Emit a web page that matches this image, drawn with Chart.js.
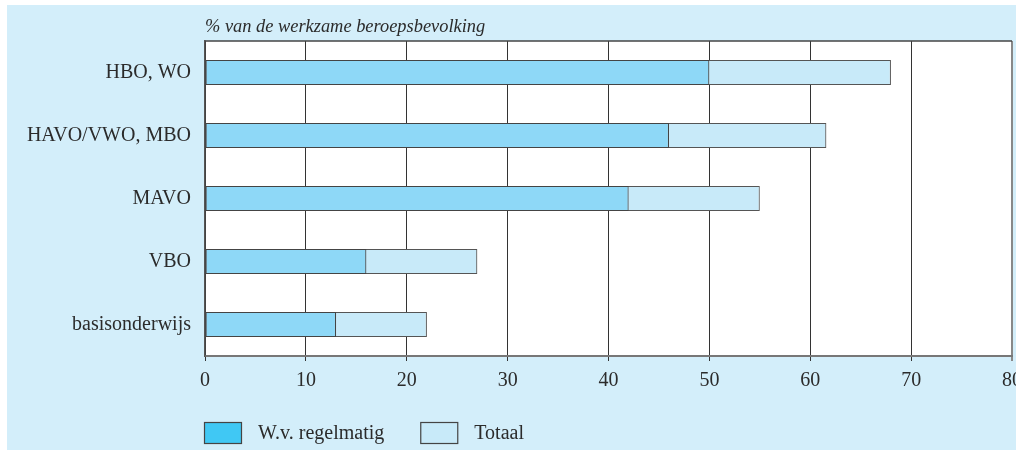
<!DOCTYPE html>
<html>
<head>
<meta charset="utf-8">
<script src="https://cdn.jsdelivr.net/npm/chart.js@4.4.0/dist/chart.umd.min.js"></script>
<style>
  html, body { margin: 0; padding: 0; background: #fff; }
  #wrap { position: absolute; left: 7px; top: 5px; width: 1009px; height: 445px; background: #d3eefa; overflow: hidden; }
</style>
</head>
<body>
<div id="wrap"><canvas id="chart" width="1009" height="445"></canvas></div>
<script>
'use strict';

const categories = ['HBO, WO', 'HAVO/VWO, MBO', 'MAVO', 'VBO', 'basisonderwijs'];
const regelmatig = [50, 46, 42, 16, 13];
const totaal = [68, 61.6, 55, 27, 22];
const xMax = 80;
const xStep = 10;

const axisTitle = '% van de werkzame beroepsbevolking';
const legendItems = [
  { label: 'W.v. regelmatig', fill: '#40c8f4' },
  { label: 'Totaal', fill: '#c8eaf9' },
];

const FONT = "'Liberation Serif', 'DejaVu Serif', serif";
const TEXT = '#2b2b2b';

// white plot background, top edge, italic axis title and the legend row
const frame = {
  id: 'frame',
  beforeDraw(chart) {
    const { ctx, chartArea: a } = chart;
    ctx.save();
    ctx.fillStyle = '#fff';
    ctx.fillRect(a.left, a.top, a.right - a.left, a.bottom - a.top);
    ctx.restore();
  },
  afterDraw(chart) {
    const { ctx, chartArea: a } = chart;
    ctx.save();
    ctx.strokeStyle = '#444';
    ctx.lineWidth = 1.5;
    ctx.beginPath();
    ctx.moveTo(a.left, a.top);
    ctx.lineTo(a.right, a.top);
    ctx.stroke();

    ctx.fillStyle = TEXT;
    ctx.font = 'italic 18.4px ' + FONT;
    ctx.textBaseline = 'alphabetic';
    ctx.textAlign = 'left';
    ctx.fillText(axisTitle, a.left, 27);

    let x = a.left - 1;
    const y = 417;
    ctx.font = '20px ' + FONT;
    ctx.textBaseline = 'middle';
    legendItems.forEach((item) => {
      ctx.fillStyle = item.fill;
      ctx.fillRect(x, y, 38, 22);
      ctx.strokeStyle = '#444';
      ctx.lineWidth = 1.2;
      ctx.strokeRect(x + 0.5, y + 0.5, 37, 21);
      ctx.fillStyle = TEXT;
      ctx.fillText(item.label, x + 54, y + 12);
      x += 54 + ctx.measureText(item.label).width + 36;
    });
    ctx.restore();
  },
};

new Chart(document.getElementById('chart'), {
  type: 'bar',
  data: {
    labels: categories,
    datasets: [
      {
        label: 'W.v. regelmatig',
        data: regelmatig,
        backgroundColor: '#8ed8f7',
        borderColor: '#444',
        borderWidth: 1.2,
        borderSkipped: false,
        order: 0,
      },
      {
        label: 'Totaal',
        data: totaal,
        backgroundColor: '#c8eaf9',
        borderColor: '#555',
        borderWidth: 1.2,
        borderSkipped: false,
        order: 1,
      },
    ],
  },
  options: {
    indexAxis: 'y',
    responsive: false,
    animation: false,
    barPercentage: 0.4,
    categoryPercentage: 1,
    layout: { padding: { top: 36, right: 4, left: 0, bottom: 64 } },
    plugins: {
      legend: { display: false },
      title: { display: false },
      tooltip: { enabled: false },
    },
    scales: {
      x: {
        min: 0,
        max: xMax,
        ticks: { stepSize: xStep, padding: 8, color: TEXT, font: { family: FONT, size: 20 } },
        grid: {
          color: (c) => (c.tick && c.tick.value === xMax ? '#888' : '#333'),
          lineWidth: (c) => (c.tick && c.tick.value === xMax ? 2 : 1),
          tickLength: 5,
        },
        border: { color: '#777', width: 2 },
        afterFit(scale) {
          scale.height = 30;
          scale.paddingLeft = 0;
          scale.paddingRight = 0;
        },
      },
      y: {
        stacked: true,
        ticks: { padding: 14, color: TEXT, font: { family: FONT, size: 20 } },
        grid: { display: false, drawTicks: false },
        border: { color: '#555', width: 1.5 },
        afterFit(scale) { scale.width = 198; },
      },
    },
  },
  plugins: [frame],
});
</script>
</body>
</html>
